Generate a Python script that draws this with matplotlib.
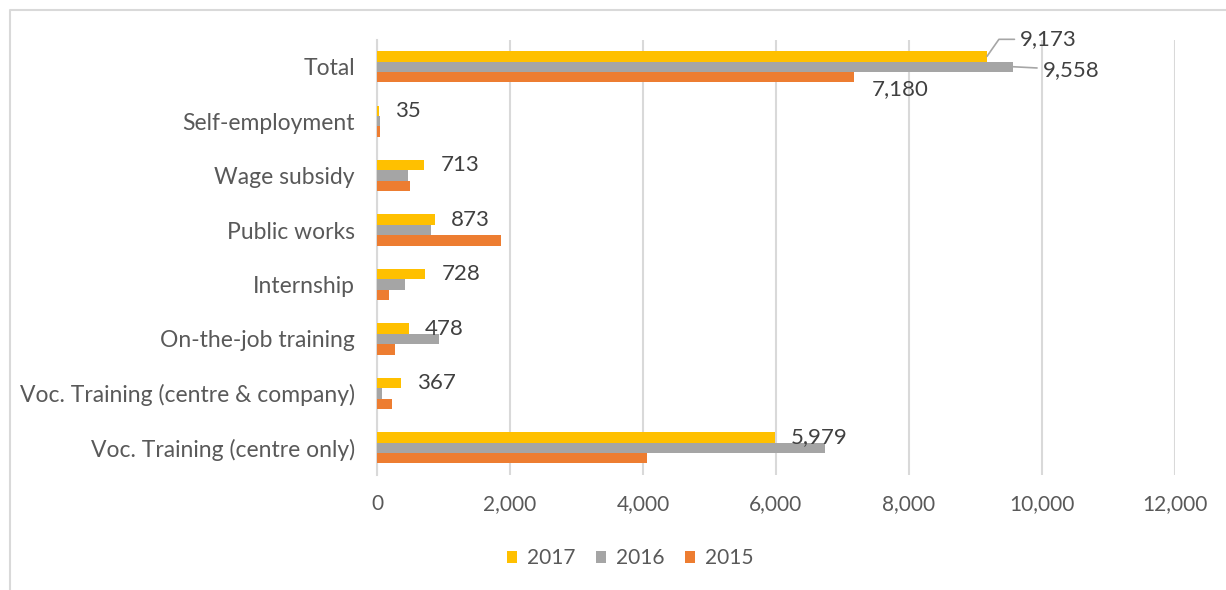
import matplotlib.pyplot as plt
import numpy as np

categories = ['Voc. Training (centre only)', 'Voc. Training (centre & company)',
              'On-the-job training', 'Internship', 'Public works',
              'Wage subsidy', 'Self-employment', 'Total']
v2017 = [5979, 367, 478, 728, 873, 713, 35, 9173]
v2016 = [6738, 80, 937, 421, 812, 466, 50, 9558]
v2015 = [4056, 230, 271, 176, 1860, 495, 40, 7180]
xticks = [0, 2000, 4000, 6000, 8000, 10000, 12000]

plt.rcParams['font.family'] = ['Lato', 'DejaVu Sans']

fig = plt.figure(figsize=(12.26, 5.9), dpi=100)
ax = fig.add_axes([377/1226, 1 - 475/590, 798/1226, 435.5/590])

y = np.arange(len(categories))
h = 0.191
ax.barh(y + h, v2017, height=h, color='#FFC000', label='2017', zorder=3)
ax.barh(y, v2016, height=h, color='#A5A5A5', label='2016', zorder=3)
ax.barh(y - h, v2015, height=h, color='#ED7D31', label='2015', zorder=3)

ax.set_xlim(0, 12000)
ax.set_ylim(-0.5, len(categories) - 0.5)
ax.set_xticks(xticks)
ax.set_xticklabels([f'{t:,}' for t in xticks])
ax.set_yticks(y)
ax.set_yticklabels(categories)
ax.tick_params(length=0, colors='#595959')
ax.tick_params(axis='x', labelsize=15, pad=14)
ax.tick_params(axis='y', labelsize=16.5, pad=16)
ax.grid(axis='x', color='#D9D9D9', linewidth=1.5, zorder=0)
for s in ['top', 'right', 'bottom']:
    ax.spines[s].set_visible(False)
ax.spines['left'].set_color('#D9D9D9')
ax.spines['left'].set_linewidth(1.5)

lab = dict(fontsize=16, color='#404040', va='center')
# 2017 values beside the yellow bars
for i in range(len(categories) - 1):
    ax.annotate(f'{v2017[i]:,}', (v2017[i], y[i] + h), xytext=(16, 0),
                textcoords='offset pixels', ha='left', **lab)

# Total row carries all three values, two with leader lines
t = len(categories) - 1
ax.annotate(f'{v2017[t]:,}', (v2017[t], y[t] + h), xytext=(33, 17),
            textcoords='offset pixels', ha='left',
            arrowprops=dict(arrowstyle='-', color='#A6A6A6', lw=1.2,
                            connectionstyle='angle,angleA=0,angleB=55,rad=0',
                            shrinkA=2, shrinkB=0), **lab)
ax.annotate(f'{v2016[t]:,}', (v2016[t], y[t]), xytext=(30, -3),
            textcoords='offset pixels', ha='left',
            arrowprops=dict(arrowstyle='-', color='#A6A6A6', lw=1.2,
                            shrinkA=2, shrinkB=0), **lab)
ax.annotate(f'{v2015[t]:,}', (v2015[t], y[t] - h), xytext=(17, -12),
            textcoords='offset pixels', ha='left', **lab)

ax.legend(loc='center', bbox_to_anchor=(630/1226, 1 - 558/590),
          bbox_transform=fig.transFigure, ncol=3, frameon=False,
          fontsize=15, labelcolor='#595959', handlelength=0.5,
          handleheight=0.5, handletextpad=0.45, columnspacing=1.0)

# outer chart border
fig.add_artist(plt.Line2D([10/1226, 10/1226, 1], [0, 1 - 10/590, 1 - 10/590],
                          transform=fig.transFigure, color='#D9D9D9', lw=1.5))

fig.savefig('out.png', dpi=100)
